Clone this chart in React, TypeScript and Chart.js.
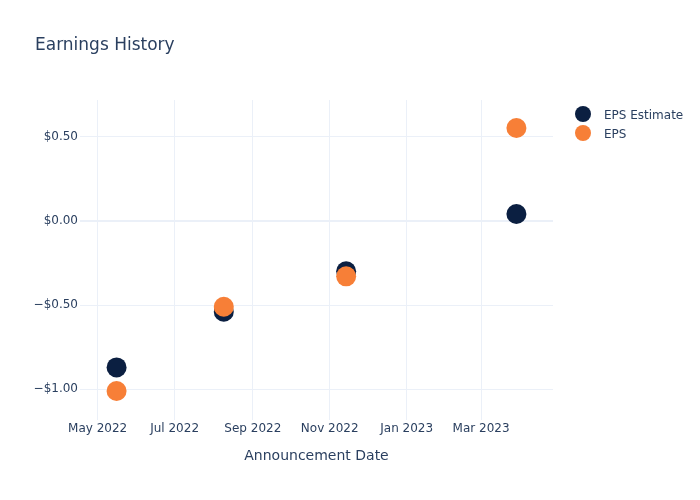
import React, { useEffect, useRef } from "react";
import { Chart, registerables } from "chart.js";

Chart.register(...registerables);

const announcementDates = ["2022-05-16", "2022-08-09", "2022-11-14", "2023-03-29"];
const epsEstimate = [-0.87, -0.54, -0.30, 0.04];
const epsActual = [-1.01, -0.51, -0.33, 0.55];
const xTickDates = ["2022-05-01", "2022-07-01", "2022-09-01", "2022-11-01", "2023-01-01", "2023-03-01"];
const yTickValues = [-1, -0.5, 0, 0.5];
const monthNames = ["Jan", "Feb", "Mar", "Apr", "May", "Jun", "Jul", "Aug", "Sep", "Oct", "Nov", "Dec"];

const xMinDate = "2022-04-17";
const xMaxDate = "2023-04-27";
const yMin = -1.182;
const yMax = 0.716;

const NAVY = "#0b1f41";
const ORANGE = "#f77f37";
const TEXT = "#2a3f5f";
const GRID = "#ebf0f8";
const FONT = "'DejaVu Sans', Verdana, sans-serif";

const toMs = (s: string) => {
  const [y, m, d] = s.split("-").map(Number);
  return Date.UTC(y, m - 1, d);
};

const fmtDate = (ms: number) => {
  const d = new Date(ms);
  return `${monthNames[d.getUTCMonth()]} ${d.getUTCFullYear()}`;
};

const fmtMoney = (v: number) => {
  const s = "$" + Math.abs(v).toFixed(2);
  return v < 0 ? "\u2212" + s : s;
};

const overlayPlugin = {
  id: "overlay",
  afterDraw(chart: any) {
    const ctx = chart.ctx;
    ctx.save();
    ctx.fillStyle = TEXT;
    ctx.textBaseline = "alphabetic";
    ctx.textAlign = "left";
    ctx.font = `17px ${FONT}`;
    ctx.fillText("Earnings History", 35, 50);
    const items = [
      { label: "EPS Estimate", color: NAVY, y: 114 },
      { label: "EPS", color: ORANGE, y: 133 },
    ];
    ctx.font = `12px ${FONT}`;
    for (const it of items) {
      ctx.beginPath();
      ctx.arc(583, it.y, 8, 0, Math.PI * 2);
      ctx.fillStyle = it.color;
      ctx.fill();
      ctx.fillStyle = TEXT;
      ctx.fillText(it.label, 604, it.y + 4.5);
    }
    ctx.restore();
  },
};

export default function App() {
  const ref = useRef<HTMLCanvasElement | null>(null);
  useEffect(() => {
    document.body.style.margin = "0";
    if (!ref.current) return;
    const xs = announcementDates.map(toMs);
    const chart = new Chart(ref.current, {
      type: "scatter",
      data: {
        datasets: [
          {
            label: "EPS Estimate",
            data: xs.map((x, i) => ({ x, y: epsEstimate[i] })),
            backgroundColor: NAVY,
            borderWidth: 0,
            pointRadius: 10,
            order: 1,
          },
          {
            label: "EPS",
            data: xs.map((x, i) => ({ x, y: epsActual[i] })),
            backgroundColor: ORANGE,
            borderWidth: 0,
            pointRadius: 10,
            order: 0,
          },
        ],
      },
      options: {
        responsive: false,
        animation: false,
        layout: { padding: { top: 100, right: 147, left: 0, bottom: 0 } },
        plugins: { legend: { display: false }, title: { display: false }, tooltip: { enabled: false } },
        scales: {
          x: {
            type: "linear",
            min: toMs(xMinDate),
            max: toMs(xMaxDate),
            afterBuildTicks: (s: any) => {
              s.ticks = xTickDates.map((d) => ({ value: toMs(d) }));
            },
            afterFit: (s: any) => {
              s.height = 80;
            },
            ticks: {
              autoSkip: false,
              maxRotation: 0,
              padding: 2,
              color: TEXT,
              font: { family: FONT, size: 12 },
              callback: (v: any) => fmtDate(Number(v)),
            },
            grid: { color: GRID, lineWidth: 1, drawTicks: false },
            border: { display: false },
            title: {
              display: true,
              text: "Announcement Date",
              color: TEXT,
              font: { family: FONT, size: 14 },
              padding: { top: 0, bottom: 35 },
            },
          },
          y: {
            type: "linear",
            min: yMin,
            max: yMax,
            afterBuildTicks: (s: any) => {
              s.ticks = yTickValues.map((v) => ({ value: v }));
            },
            afterFit: (s: any) => {
              s.width = 80;
            },
            ticks: {
              padding: 2,
              color: TEXT,
              font: { family: FONT, size: 12 },
              callback: (v: any) => fmtMoney(Number(v)),
            },
            grid: {
              color: GRID,
              lineWidth: (c: any) => (c.tick && c.tick.value === 0 ? 2 : 1),
              drawTicks: false,
            },
            border: { display: false },
          },
        },
      },
      plugins: [overlayPlugin],
    } as any);
    return () => chart.destroy();
  }, []);
  return <canvas ref={ref} width={700} height={500} style={{ display: "block" }} />;
}
